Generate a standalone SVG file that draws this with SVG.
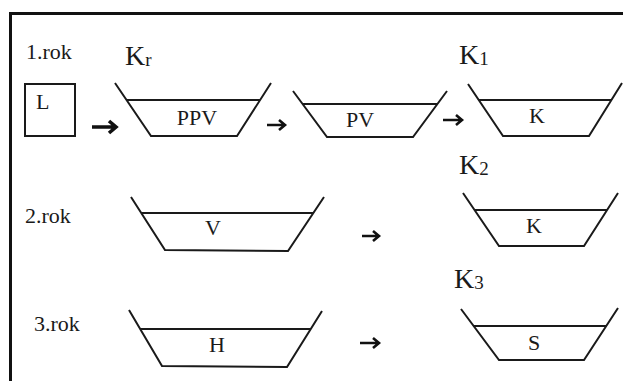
<svg xmlns="http://www.w3.org/2000/svg" width="623" height="381" viewBox="0 0 623 381">
<style>
.t{font-family:"Liberation Serif","Times New Roman",serif;font-size:22px;fill:#1a1a1a}
.big{font-size:28px}
.sub{font-size:19px}
.m{text-anchor:middle}
.tr{fill:none;stroke:#1a1a1a;stroke-width:2;stroke-linejoin:miter}
.wl{stroke:#1a1a1a;stroke-width:2}
.ar{fill:none;stroke:#111;stroke-width:2.6;stroke-linecap:butt;stroke-linejoin:miter}
.arb{stroke-width:3.6}
</style>
<rect width="623" height="381" fill="#fff"/>
<g id="frame">
<path d="M10.5 381 V13.5 H623" fill="none" stroke="#111" stroke-width="3"/>
</g>
<g id="labels">
<text class="t" x="26" y="59">1.rok</text>
<text class="t" x="25" y="223">2.rok</text>
<text class="t" x="34" y="331">3.rok</text>
<text class="t big" x="125" y="65">K<tspan class="sub" dy="1">r</tspan></text>
<text class="t big" x="459" y="64">K<tspan class="sub" dy="1">1</tspan></text>
<text class="t big" x="459" y="174">K<tspan class="sub" dy="1">2</tspan></text>
<text class="t big" x="454" y="288">K<tspan class="sub" dy="1">3</tspan></text>
</g>
<g id="node-L">
<rect x="25" y="84" width="50" height="52" fill="none" stroke="#1a1a1a" stroke-width="2"/>
<text class="t" x="36" y="109">L</text>
</g>
<g id="node-PPV">
<polyline class="tr" points="115,83 151,136 237,136 271,83"/>
<line class="wl" x1="126.5" y1="100" x2="260" y2="100"/>
<text class="t m" x="197" y="125">PPV</text>
</g>
<g id="node-PV">
<polyline class="tr" points="293,91 327,137 413,137 447,91"/>
<line class="wl" x1="302.6" y1="104" x2="437.4" y2="104"/>
<text class="t m" x="360" y="127">PV</text>
</g>
<g id="node-K1">
<polyline class="tr" points="468,84 503,136 589,136 622,83"/>
<line class="wl" x1="478.8" y1="100" x2="611.4" y2="100"/>
<text class="t m" x="537" y="123">K</text>
</g>
<g id="node-V">
<polyline class="tr" points="131,197 165,250 288,251 324,197"/>
<line class="wl" x1="141" y1="213" x2="313" y2="213"/>
<text class="t m" x="213" y="235">V</text>
</g>
<g id="node-K2">
<polyline class="tr" points="463,193 499,246 584,246 618,193"/>
<line class="wl" x1="474.5" y1="210" x2="607" y2="210"/>
<text class="t m" x="534" y="233">K</text>
</g>
<g id="node-H">
<polyline class="tr" points="129,310 162,366 287,367 322,311"/>
<line class="wl" x1="140" y1="329" x2="310.8" y2="329"/>
<text class="t m" x="217" y="352">H</text>
</g>
<g id="node-S">
<polyline class="tr" points="461,309 499,360 584,360 618,308"/>
<line class="wl" x1="473.7" y1="326" x2="606" y2="326"/>
<text class="t m" x="534" y="350">S</text>
</g>
<g id="connectors">
<path class="ar arb" d="M92 127 H115 M109 121 L116 127 L109 133"/>
<path class="ar" d="M267 125 H284 M279 120 L285 125 L279 130"/>
<path class="ar" d="M443 120 H461 M456 115 L462 120 L456 125"/>
<path class="ar" d="M362 236 H378 M373 231 L379 236 L373 241"/>
<path class="ar" d="M360 343 H378 M373 338 L379 343 L373 348"/>
</g>
</svg>
